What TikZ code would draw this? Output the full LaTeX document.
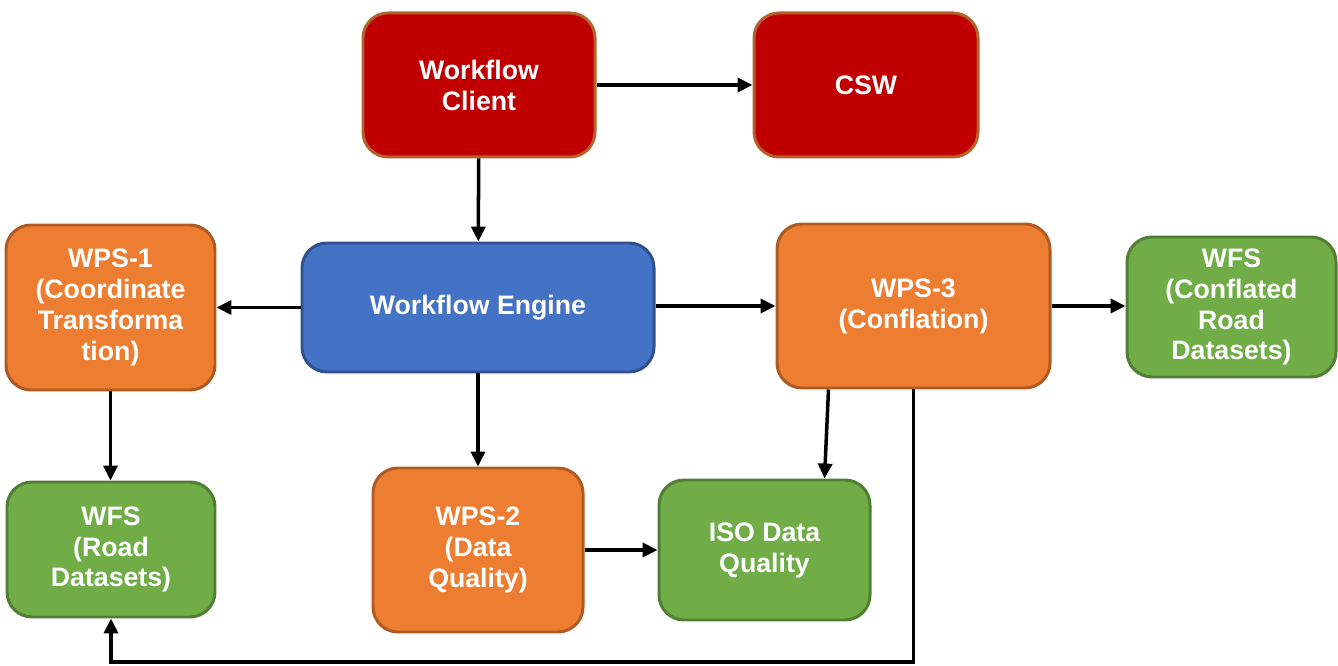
\documentclass[tikz,border=0pt]{standalone}
\usepackage{fontspec}
\setmainfont{Liberation Sans}
\usetikzlibrary{arrows.meta, calc}

\definecolor{clientred}{HTML}{C00000}
\definecolor{clientrim}{HTML}{B4622B}
\definecolor{wpsorange}{HTML}{ED7D31}
\definecolor{wpsrim}{HTML}{AE5A21}
\definecolor{engineblue}{HTML}{4472C4}
\definecolor{enginerim}{HTML}{2F528F}
\definecolor{datagreen}{HTML}{70AD47}
\definecolor{datarim}{HTML}{507E32}

\tikzset{
  svcbox/.style = {rounded corners=0.5cm, line width=1.7pt, align=center,
    text=white, font=\fontsize{15.2}{17.6}\selectfont\bfseries, inner sep=2pt},
  clientbox/.style = {svcbox, fill=clientred, draw=clientrim},
  wpsbox/.style = {svcbox, fill=wpsorange, draw=wpsrim},
  enginebox/.style = {svcbox, fill=engineblue, draw=enginerim},
  databox/.style = {svcbox, fill=datagreen, draw=datarim},
  flow/.style = {line width=2pt, -{Triangle[length=8.5pt, width=8pt]}}
}

\begin{document}
\begin{tikzpicture}
\useasboundingbox (0,0) rectangle (26.76,-13.32);

\node[clientbox, minimum width=4.64cm, minimum height=2.88cm] (client) at (9.58,-1.70) {Workflow\\Client};
\node[clientbox, minimum width=4.48cm, minimum height=2.88cm] (csw) at (17.32,-1.70) {CSW};
\node[wpsbox, minimum width=4.18cm, minimum height=3.30cm] (wpsA) at (2.21,-6.15) {WPS-1\\(Coordinate\\Transforma\\tion)};
\node[enginebox, minimum width=7.04cm, minimum height=2.58cm] (engine) at (9.56,-6.15) {Workflow Engine};
\node[wpsbox, minimum width=5.46cm, minimum height=3.28cm] (wpsC) at (18.27,-6.12) {WPS-3\\(Conflation)};
\node[databox, minimum width=4.18cm, minimum height=2.80cm] (wfsConf) at (24.63,-6.14) {WFS\\(Conflated\\Road\\Datasets)};
\node[databox, minimum width=4.16cm, minimum height=2.70cm] (wfsRoad) at (2.22,-10.99) {WFS\\(Road\\Datasets)};
\node[wpsbox, minimum width=4.20cm, minimum height=3.28cm] (wpsB) at (9.56,-11.00) {WPS-2\\(Data\\Quality)};
\node[databox, minimum width=4.22cm, minimum height=2.80cm] (iso) at (15.29,-11.00) {ISO Data\\Quality};

\coordinate (back) at (18.27,-13.24);

\draw[flow] (client) -- (csw);
\draw[flow] (client) -- (engine);
\draw[flow] (engine) -- (wpsA);
\draw[flow] (engine.east |- wpsC) -- (wpsC);
\draw[flow] (wpsC) -- (wpsC -| wfsConf.west);
\draw[flow] (wpsA) -- (wpsA |- wfsRoad.north);
\draw[flow] (engine) -- (wpsB);
\draw[flow] (wpsB) -- (wpsB -| iso.west);
\draw[flow] ([xshift=-1.70cm]wpsC.south) -- ([xshift=1.20cm]iso.north);
\draw[flow] (wpsC.south) -- (back) -| (wfsRoad.south);
\end{tikzpicture}
\end{document}
